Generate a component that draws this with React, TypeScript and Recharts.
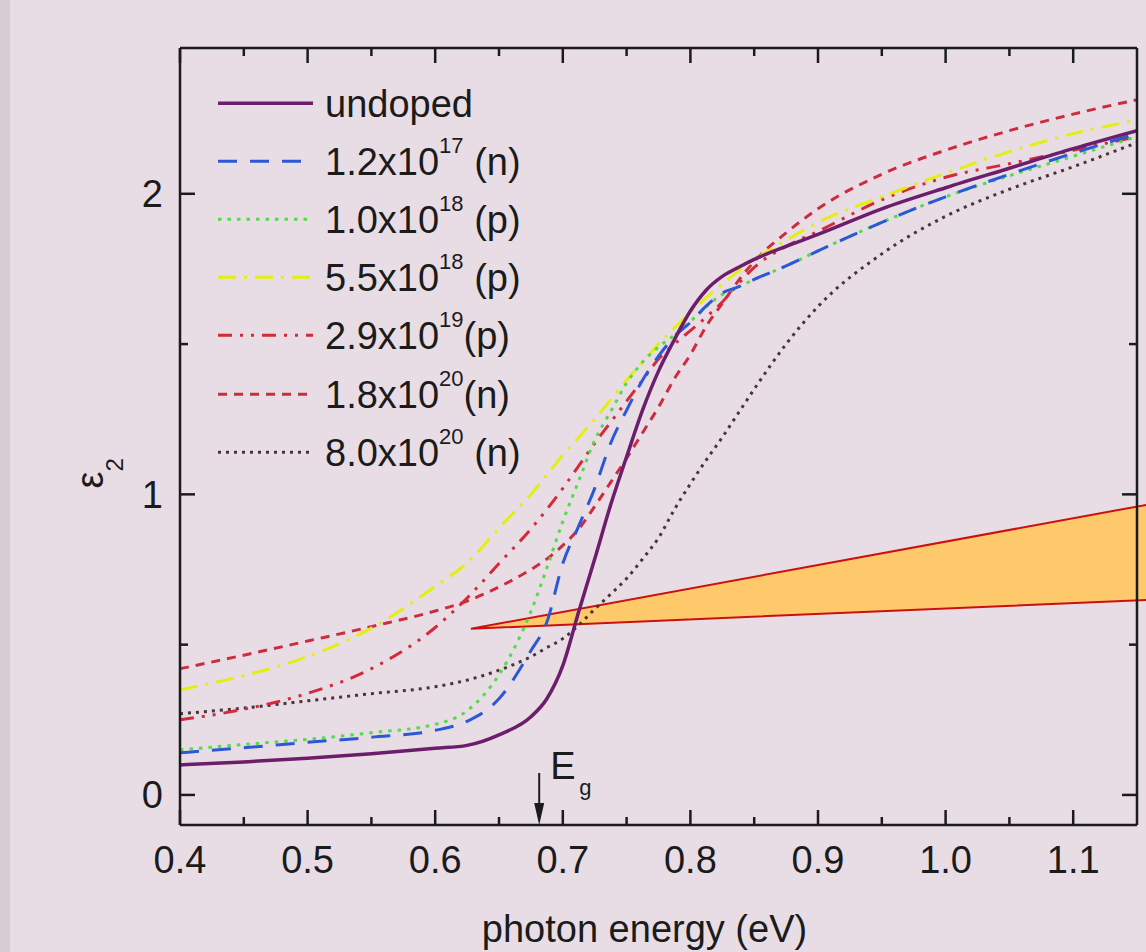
import React from 'react';
import { LineChart, Line, XAxis, YAxis, ReferenceArea, ReferenceLine, Legend } from 'recharts';

// photon energy grid (eV)
const ENERGY = [0.40, 0.45, 0.50, 0.55, 0.60, 0.625, 0.65, 0.675, 0.6875, 0.70, 0.7125, 0.725, 0.7375, 0.75, 0.7625, 0.775, 0.7875, 0.80, 0.8125, 0.825, 0.8375, 0.85, 0.875, 0.90, 0.95, 1.00, 1.05, 1.10, 1.15];

// epsilon_2 values per sample
const UNDOPED = [0.10, 0.11, 0.122, 0.137, 0.155, 0.165, 0.20, 0.26, 0.32, 0.43, 0.61, 0.785, 0.965, 1.125, 1.28, 1.41, 1.515, 1.61, 1.68, 1.725, 1.755, 1.782, 1.825, 1.865, 1.95, 2.02, 2.085, 2.15, 2.21];
const N_1_2E17 = [0.14, 0.157, 0.175, 0.192, 0.215, 0.245, 0.32, 0.48, 0.575, 0.77, 0.895, 1.02, 1.17, 1.28, 1.38, 1.46, 1.525, 1.572, 1.627, 1.67, 1.69, 1.715, 1.76, 1.81, 1.905, 1.99, 2.065, 2.135, 2.20];
const P_1_0E18 = [0.15, 0.168, 0.185, 0.207, 0.235, 0.28, 0.40, 0.61, 0.755, 0.91, 1.045, 1.18, 1.275, 1.37, 1.44, 1.49, 1.53, 1.575, 1.625, 1.665, 1.69, 1.715, 1.76, 1.81, 1.905, 1.99, 2.06, 2.125, 2.19];
const P_5_5E18 = [0.35, 0.397, 0.46, 0.555, 0.694, 0.772, 0.888, 1.0, 1.065, 1.13, 1.19, 1.25, 1.315, 1.38, 1.44, 1.50, 1.553, 1.605, 1.655, 1.70, 1.742, 1.78, 1.845, 1.905, 1.99, 2.068, 2.14, 2.20, 2.245];
const P_2_9E19 = [0.25, 0.285, 0.338, 0.42, 0.557, 0.655, 0.77, 0.885, 0.95, 1.02, 1.095, 1.17, 1.24, 1.31, 1.38, 1.45, 1.50, 1.545, 1.59, 1.64, 1.70, 1.755, 1.825, 1.875, 1.98, 2.055, 2.10, 2.145, 2.19];
const N_1_8E20 = [0.42, 0.465, 0.512, 0.56, 0.612, 0.645, 0.692, 0.75, 0.785, 0.83, 0.885, 0.96, 1.04, 1.12, 1.205, 1.29, 1.385, 1.465, 1.56, 1.635, 1.71, 1.775, 1.87, 1.95, 2.065, 2.145, 2.21, 2.265, 2.313];
const N_8_0E20 = [0.27, 0.289, 0.313, 0.337, 0.36, 0.382, 0.415, 0.46, 0.49, 0.52, 0.565, 0.618, 0.668, 0.72, 0.785, 0.855, 0.95, 1.035, 1.115, 1.19, 1.27, 1.35, 1.50, 1.625, 1.80, 1.925, 2.015, 2.09, 2.17];

// axis ticks
const X_TICKS = [0.4, 0.45, 0.5, 0.55, 0.6, 0.65, 0.7, 0.75, 0.8, 0.85, 0.9, 0.95, 1.0, 1.05, 1.1];
const Y_TICKS = [0, 0.5, 1, 1.5, 2];
const X_DOMAIN = [0.4, 1.15];
const Y_DOMAIN = [-0.1, 2.485];

// annotations
const EG = 0.6815;
const EG_ARROW = [0.073, -0.1];
const WEDGE_TIP = { x: 0.628, y: 0.553 };
const WEDGE_END_X = 1.1584;
const WEDGE_END_TOP = 0.966;
const WEDGE_END_LOW = 0.649;

const SERIES = [
  { key: 'n80e20', data: N_8_0E20, main: '8.0x10', sup: '20', tail: ' (n)', color: '#4a3436', dash: '3 5', width: 3 },
  { key: 'n18e20', data: N_1_8E20, main: '1.8x10', sup: '20', tail: '(n)', color: '#cc2c3e', dash: '9 7', width: 3 },
  { key: 'p29e19', data: P_2_9E19, main: '2.9x10', sup: '19', tail: '(p)', color: '#d42a3a', dash: '14 8 3 8 3 8', width: 3 },
  { key: 'p55e18', data: P_5_5E18, main: '5.5x10', sup: '18', tail: ' (p)', color: '#e4ee10', dash: '18 8 3 8', width: 3 },
  { key: 'p10e18', data: P_1_0E18, main: '1.0x10', sup: '18', tail: ' (p)', color: '#52dc4a', dash: '3.5 6', width: 3 },
  { key: 'n12e17', data: N_1_2E17, main: '1.2x10', sup: '17', tail: ' (n)', color: '#2c58d8', dash: '19 13', width: 3 },
  { key: 'undoped', data: UNDOPED, main: 'undoped', sup: '', tail: '', color: '#6c1d6c', dash: undefined, width: 3.5 },
];
const LEGEND_ORDER = ['undoped', 'n12e17', 'p10e18', 'p55e18', 'p29e19', 'n18e20', 'n80e20'];

const data = ENERGY.map((x, i) => {
  const row: any = { x };
  SERIES.forEach((s) => { row[s.key] = s.data[i]; });
  return row;
});

const INK = '#1b1b1b';
const FONT = '"Liberation Sans", Arial, sans-serif';
const isMajor = (v: number, step: number) => Math.abs(v / step - Math.round(v / step)) < 1e-6;

const BottomTick = (p: any) => {
  const v = p.payload.value;
  const major = isMajor(v, 0.1);
  return (
    <g>
      <line x1={p.x} x2={p.x} y1={p.y} y2={p.y - (major ? 15 : 8)} stroke={INK} strokeWidth={2.5} />
      {major && (
        <text x={p.x} y={p.y + 48} textAnchor="middle" fontSize={38} fill={INK} fontFamily={FONT}>{v.toFixed(1)}</text>
      )}
    </g>
  );
};
const TopTick = (p: any) => {
  const major = isMajor(p.payload.value, 0.1);
  return <line x1={p.x} x2={p.x} y1={p.y} y2={p.y + (major ? 15 : 8)} stroke={INK} strokeWidth={2.5} />;
};
const LeftTick = (p: any) => {
  const v = p.payload.value;
  const major = isMajor(v, 1);
  return (
    <g>
      <line x1={p.x} x2={p.x + (major ? 15 : 8)} y1={p.y} y2={p.y} stroke={INK} strokeWidth={2.5} />
      {major && (
        <text x={p.x - 17} y={p.y + 13.5} textAnchor="end" fontSize={38} fill={INK} fontFamily={FONT}>{String(v)}</text>
      )}
    </g>
  );
};
const RightTick = (p: any) => {
  const major = isMajor(p.payload.value, 1);
  return <line x1={p.x} x2={p.x - (major ? 15 : 8)} y1={p.y} y2={p.y} stroke={INK} strokeWidth={2.5} />;
};

const XTitle = (p: any) => {
  const vb = p.viewBox;
  return (
    <text x={vb.x + vb.width / 2 - 14} y={vb.y + 117} textAnchor="middle" fontSize={38} fill={INK} fontFamily={FONT}>
      photon energy (eV)
    </text>
  );
};
const YTitle = (p: any) => {
  const vb = p.viewBox;
  const x = vb.x + 103;
  const y = vb.y + vb.height / 2 + 52;
  return (
    <text x={x} y={y} transform={`rotate(-90 ${x} ${y})`} fontSize={38} fill={INK} fontFamily={FONT}>
      ε<tspan fontSize={24} dy={20}>2</tspan>
    </text>
  );
};

const EgArrow = (p: any) => {
  const { x1, y1, y2 } = p;
  return (
    <g>
      <line x1={x1} x2={x1} y1={y1} y2={y2 - 18} stroke={INK} strokeWidth={2} />
      <polygon points={`${x1 - 5},${y2 - 22} ${x1 + 5},${y2 - 22} ${x1},${y2}`} fill={INK} />
      <text x={x1 + 11} y={y1 + 6} fontSize={38} fill={INK} fontFamily={FONT}>E</text>
      <text x={x1 + 40} y={y1 + 22} fontSize={22} fill={INK} fontFamily={FONT}>g</text>
    </g>
  );
};

const Wedge = (p: any) => {
  const { x, y, width, height } = p;
  const frac = (WEDGE_END_TOP - WEDGE_END_LOW) / (WEDGE_END_TOP - WEDGE_TIP.y);
  const pts = `${x},${y + height} ${x + width},${y} ${x + width},${y + height * frac}`;
  return <polygon points={pts} fill="#fec96a" stroke="#cc1010" strokeWidth={2} strokeLinejoin="miter" />;
};

const ROW = 58.2;
const LegendBox = () => (
  <div style={{ position: 'relative', width: 360, height: ROW * 7, fontFamily: FONT, color: INK }}>
    {LEGEND_ORDER.map((k, i) => {
      const s = SERIES.find((q) => q.key === k)!;
      return (
        <div key={k} style={{ position: 'absolute', left: 0, top: i * ROW, height: ROW, width: 360 }}>
          <svg width={96} height={58} style={{ position: 'absolute', left: 0, top: 0 }}>
            <line x1={0} x2={95} y1={28.3} y2={28.3} stroke={s.color} strokeWidth={s.width} strokeDasharray={s.dash} />
          </svg>
          <span style={{ position: 'absolute', left: 107, top: 0, lineHeight: `${ROW}px`, fontSize: 38, whiteSpace: 'nowrap' }}>
            {s.main}
            {s.sup && <span style={{ fontSize: 22, position: 'relative', top: -22 }}>{s.sup}</span>}
            {s.tail}
          </span>
        </div>
      );
    })}
  </div>
);

export default function App() {
  return (
    <div style={{ position: 'absolute', left: 0, top: 0, width: 1146, height: 952, background: '#e9dde5', overflow: 'hidden', fontFamily: FONT }}>
      <div style={{ position: 'absolute', left: 0, top: 0, width: 10, height: 952, background: '#d8ccd4' }} />
      <div style={{ position: 'absolute', left: 0, top: 0 }}>
        <LineChart width={1146} height={952} data={data} margin={{ top: 47, right: 8, bottom: 0, left: 0 }}>
          <XAxis dataKey="x" type="number" domain={X_DOMAIN} ticks={X_TICKS} interval={0} allowDataOverflow
            height={127} tickSize={0} tickMargin={0} tick={<BottomTick />} tickLine={false}
            axisLine={{ stroke: INK, strokeWidth: 2.5 }} label={<XTitle />} />
          <XAxis xAxisId="top" orientation="top" dataKey="x" type="number" domain={X_DOMAIN} ticks={X_TICKS} interval={0}
            allowDataOverflow height={1} tickSize={0} tickMargin={0} tick={<TopTick />} tickLine={false}
            axisLine={{ stroke: INK, strokeWidth: 2.5 }} />
          <YAxis type="number" domain={Y_DOMAIN} ticks={Y_TICKS} interval={0} allowDataOverflow width={180}
            tickSize={0} tickMargin={0} tick={<LeftTick />} tickLine={false}
            axisLine={{ stroke: INK, strokeWidth: 2.5 }} label={<YTitle />} />
          <YAxis yAxisId="right" orientation="right" type="number" domain={Y_DOMAIN} ticks={Y_TICKS} interval={0}
            allowDataOverflow width={1} tickSize={0} tickMargin={0} tick={<RightTick />} tickLine={false}
            axisLine={{ stroke: INK, strokeWidth: 2.5 }} />
          {SERIES.map((s) => (
            <Line key={s.key} dataKey={s.key} type="monotone" stroke={s.color} strokeWidth={s.width}
              strokeDasharray={s.dash} dot={false} activeDot={false} isAnimationActive={false} />
          ))}
          <ReferenceArea x1={WEDGE_TIP.x} x2={WEDGE_END_X} y1={WEDGE_TIP.y} y2={WEDGE_END_TOP}
            ifOverflow="visible" shape={<Wedge />} />
          <ReferenceLine segment={[{ x: EG, y: EG_ARROW[0] }, { x: EG, y: EG_ARROW[1] }]} ifOverflow="visible"
            shape={<EgArrow />} />
          <Legend layout="vertical" align="center" verticalAlign="middle" content={<LegendBox />}
            wrapperStyle={{ left: 218, top: 74.7, width: 360, height: ROW * 7 }} />
        </LineChart>
      </div>
    </div>
  );
}
